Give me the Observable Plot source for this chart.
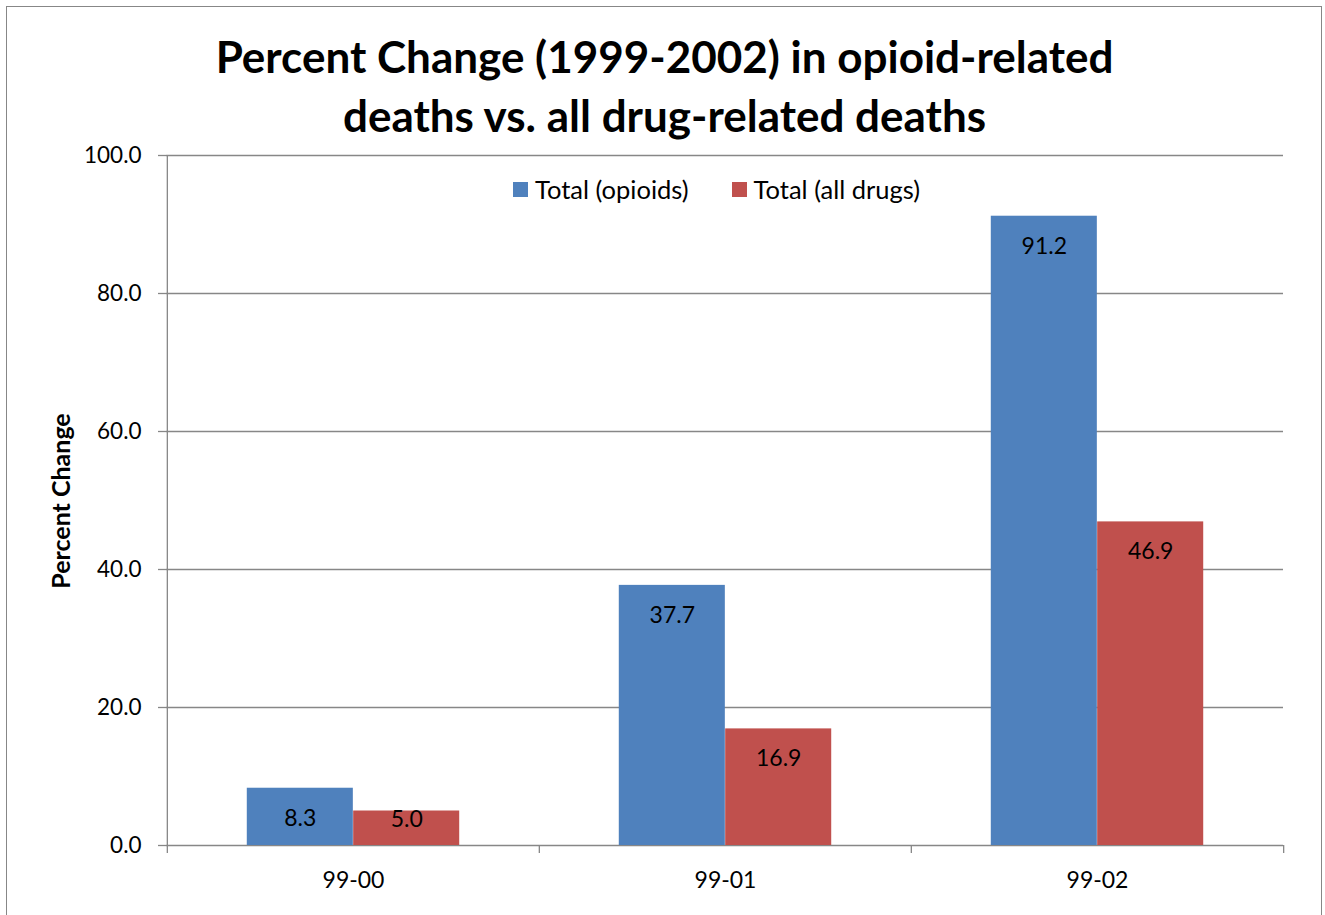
<!DOCTYPE html>
<html>
<head>
<meta charset="utf-8">
<script src="https://cdn.jsdelivr.net/npm/d3@7"></script>
<script src="https://cdn.jsdelivr.net/npm/@observablehq/plot@0.6"></script>
<style>
  html, body { margin: 0; padding: 0; background: #fff; }
  #page { position: relative; width: 1325px; height: 915px; overflow: hidden; font-family: Lato, sans-serif; }
  #border { position: absolute; left: 6px; top: 6px; width: 1316px; height: 940px; border: 1.6px solid #878787; box-sizing: border-box; }
  #title { position: absolute; left: 2px; top: 27px; width: 1325px; text-align: center; font-weight: bold; font-size: 44px; line-height: 59px; color: #000; }
  #ylabel { position: absolute; left: 60px; top: 501px; transform: translate(-50%, -50%) rotate(-90deg); font-weight: bold; font-size: 25px; white-space: nowrap; color: #000; }
  #legend { position: absolute; top: 174px; left: 513px; display: flex; align-items: center; font-size: 25.5px; color: #000; white-space: nowrap; }
  #legend .sw { width: 15px; height: 15px; display: inline-block; margin-right: 7px; }
  #legend .item { display: flex; align-items: center; margin-right: 43px; }
  #chart { position: absolute; left: 0; top: 0; }
</style>
</head>
<body>
<div id="page">
  <div id="chart"></div>
  <div id="border"></div>
  <div id="title"></div>
  <div id="ylabel"></div>
  <div id="legend"></div>
</div>
<script>
// ---- data ----
const titleLines = ["Percent Change (1999-2002) in opioid-related", "deaths vs. all drug-related deaths"];
const yTitle = "Percent Change";
const categories = ["99-00", "99-01", "99-02"];
const seriesNames = ["Total (opioids)", "Total (all drugs)"];
const opioids = [8.3, 37.7, 91.2];
const allDrugs = [5.0, 16.9, 46.9];
const seriesColors = ["#4F81BD", "#C0504D"];
const yTicks = [0, 20, 40, 60, 80, 100];

// ---- layout ----
const W = 1325, H = 915;
const mL = 166, mR = 42, mT = 155, mB = 70;
const bw = (W - mL - mR) / categories.length;   // band width
const gapWidth = 1.5;                            // Excel gap width 150%
const barW = bw / (seriesNames.length + gapWidth);
const outer = barW * gapWidth / 2;
const labelFloor = 8.1;                          // short bars: keep label above the axis

const rows = [];
categories.forEach((c, i) => {
  rows.push({cat: c, series: seriesNames[0], value: opioids[i]});
  rows.push({cat: c, series: seriesNames[1], value: allDrugs[i]});
});
const s0 = rows.filter(d => d.series === seriesNames[0]);
const s1 = rows.filter(d => d.series === seriesNames[1]);

const grid = "#878787";
const labelY = d => Math.max(d.value, labelFloor);
const chart = Plot.plot({
  width: W, height: H,
  marginLeft: mL, marginRight: mR, marginTop: mT, marginBottom: mB,
  style: {fontFamily: "Lato, sans-serif", fontSize: "22px", color: "#000", background: "transparent"},
  x: {domain: categories, padding: 0, label: null},
  y: {domain: [0, 100], label: null},
  color: {domain: seriesNames, range: seriesColors},
  marks: [
    Plot.gridY(yTicks, {stroke: grid, strokeOpacity: 1, strokeWidth: 1.3}),
    Plot.barY(s0, {x: "cat", y: "value", fill: "series", insetLeft: outer, insetRight: outer + barW}),
    Plot.barY(s1, {x: "cat", y: "value", fill: "series", insetLeft: outer + barW, insetRight: outer}),
    Plot.text(s0, {x: "cat", y: labelY, text: d => d.value.toFixed(1), dx: -barW / 2, dy: 30, fontSize: 23, fill: "#000"}),
    Plot.text(s1, {x: "cat", y: labelY, text: d => d.value.toFixed(1), dx: barW / 2, dy: 30, fontSize: 23, fill: "#000"}),
    Plot.ruleX(categories.slice(0, 1), {x: d => d, y1: 0, y2: 100, dx: -bw / 2, stroke: grid, strokeWidth: 1.3}),
    Plot.axisY({ticks: yTicks, tickSize: 8, tickPadding: 17, tickFormat: d => d.toFixed(1), stroke: grid, strokeWidth: 1.3, fill: "#000", fontSize: 22.5}),
    Plot.axisX({ticks: categories, tickSize: 8, tickFormat: () => "", dx: -bw / 2, stroke: grid, strokeWidth: 1.3}),
    Plot.axisX({ticks: categories.slice(-1), tickSize: 8, tickFormat: () => "", dx: bw / 2, stroke: grid, strokeWidth: 1.3}),
    Plot.axisX({ticks: categories, tickSize: 0, tickPadding: 26, fontSize: 23, fill: "#000"})
  ]
});
document.getElementById("chart").appendChild(chart);

document.getElementById("title").innerHTML = titleLines.join("<br>");
document.getElementById("ylabel").textContent = yTitle;
const leg = document.getElementById("legend");
seriesNames.forEach((n, i) => {
  const it = document.createElement("div");
  it.className = "item";
  const sw = document.createElement("span");
  sw.className = "sw";
  sw.style.background = seriesColors[i];
  const t = document.createElement("span");
  t.textContent = n;
  it.appendChild(sw); it.appendChild(t);
  leg.appendChild(it);
});
</script>
</body>
</html>
